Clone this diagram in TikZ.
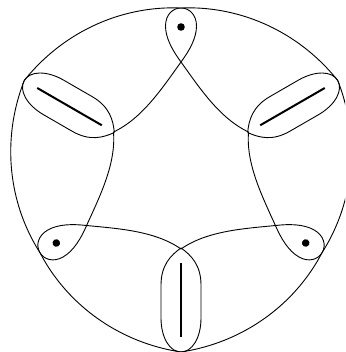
\documentclass[tikz,border=0pt]{standalone}
\begin{document}
\begin{tikzpicture}[x=1pt,y=-1pt,
  curve/.style={line width=0.9pt},
  segline/.style={line width=2pt},
  vdot/.style={fill=black}]
\useasboundingbox (0,0) rectangle (345,352);
\fill[white] (0,0) rectangle (345,352);
\clip (0,0) rectangle (345,352);
\coordinate (C) at (181,171);
\foreach \r in {0,120,240}{
  \begin{scope}[rotate around={\r:(181,171)}]
    % one side of the outer rounded triangle
    \draw[curve] plot[domain=-60:60,samples=41,smooth]
      ({181+(163+18*(0.4*abs(\x)/60+0.6*(\x/60)^2))*sin(\x)},
       {171-(163+18*(0.4*abs(\x)/60+0.6*(\x/60)^2))*cos(\x)});
    % vertex dot and edge segment
    \fill[vdot] (181,27) circle[radius=3.8];
    \draw[segline] (181,262.5) -- (181,337);
    \foreach \m/\s in {0/1,362/-1}{
      \begin{scope}[xshift=\m pt, xscale=\s]
        \draw[curve] (181,8) .. controls (189.5,8) and (196.5,15) .. (196.5,26)
          .. controls (196.5,38) and (189.5,50.5) .. (181,62)
          .. controls (162.4,87.9) and (142.4,118.4) .. (113.5,132);
        \draw[curve] (181,248) .. controls (191,255) and (201,265) .. (201,285)
          -- (201,318) .. controls (201,338) and (192,352) .. (181,352);
      \end{scope}
    }
  \end{scope}
}
\end{tikzpicture}
\end{document}
